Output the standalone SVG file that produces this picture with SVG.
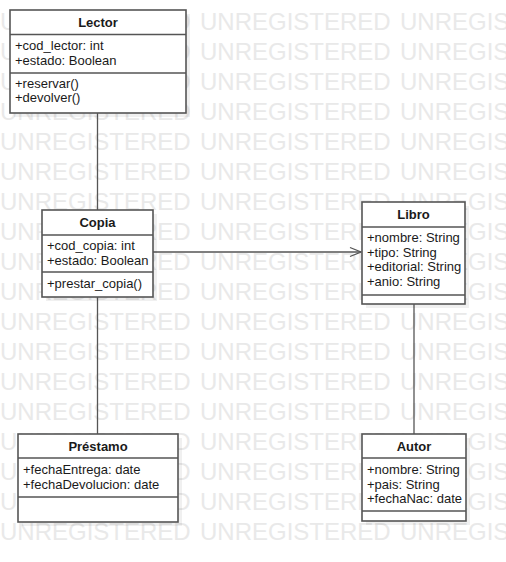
<svg xmlns="http://www.w3.org/2000/svg" width="506" height="562" viewBox="0 0 506 562">
<style>
.wm{font-family:"Liberation Sans",Arial,sans-serif;font-size:24px;fill:#e9e9e9}
.box{fill:#fff;stroke:#555;stroke-width:1.6}
.sh{fill:#000;fill-opacity:0.06}
.div{stroke:#555;stroke-width:1.6}
.t{font-family:"Liberation Sans",Arial,sans-serif;font-size:13px;fill:#1a1a1a}
.h{font-weight:bold;text-anchor:middle}
.c{stroke:#555;stroke-width:1.3;fill:none}
</style>
<defs>
<text id="wmrow" class="wm"><tspan x="0">UNREGISTERED</tspan><tspan x="200">UNREGISTERED</tspan><tspan x="400">UNREGISTERED</tspan></text>
<marker id="open" markerWidth="14" markerHeight="12" refX="12" refY="6" orient="auto" markerUnits="userSpaceOnUse">
<path d="M1,1.5 L12,6 L1,10.5" fill="none" stroke="#555" stroke-width="1.3"/>
</marker>
</defs>
<rect width="506" height="562" fill="#fff"/>
<g id="watermark">
<use href="#wmrow" y="30"/><use href="#wmrow" y="60"/><use href="#wmrow" y="90"/><use href="#wmrow" y="120"/><use href="#wmrow" y="150"/><use href="#wmrow" y="180"/><use href="#wmrow" y="210"/><use href="#wmrow" y="240"/><use href="#wmrow" y="270"/><use href="#wmrow" y="300"/><use href="#wmrow" y="330"/><use href="#wmrow" y="360"/><use href="#wmrow" y="390"/><use href="#wmrow" y="420"/><use href="#wmrow" y="450"/><use href="#wmrow" y="480"/><use href="#wmrow" y="510"/><use href="#wmrow" y="540"/>
</g>
<g id="connectors">
<line class="c" x1="97.5" y1="113" x2="97.5" y2="210"/>
<line class="c" x1="97.5" y1="297" x2="97.5" y2="434"/>
<line class="c" x1="153" y1="252" x2="361" y2="252" marker-end="url(#open)"/>
<line class="c" x1="414" y1="304" x2="414" y2="434"/>
</g>
<g id="lector">
<rect class="sh" x="14" y="14" width="176" height="103"/>
<rect class="box" x="10" y="10" width="176" height="103"/>
<line class="div" x1="10" y1="34.5" x2="186" y2="34.5"/>
<line class="div" x1="10" y1="73" x2="186" y2="73"/>
<text class="t h" x="98" y="27">Lector</text>
<text class="t" x="15" y="50">+cod_lector: int</text>
<text class="t" x="15" y="64.5">+estado: Boolean</text>
<text class="t" x="15" y="88">+reservar()</text>
<text class="t" x="15" y="102">+devolver()</text>
</g>
<g id="copia">
<rect class="sh" x="46" y="214" width="111" height="87"/>
<rect class="box" x="42" y="210" width="111" height="87"/>
<line class="div" x1="42" y1="235" x2="153" y2="235"/>
<line class="div" x1="42" y1="272" x2="153" y2="272"/>
<text class="t h" x="97.5" y="227">Copia</text>
<text class="t" x="47" y="250">+cod_copia: int</text>
<text class="t" x="47" y="264.5">+estado: Boolean</text>
<text class="t" x="47" y="288">+prestar_copia()</text>
</g>
<g id="libro">
<rect class="sh" x="366" y="206" width="103" height="102"/>
<rect class="box" x="362" y="202" width="103" height="102"/>
<line class="div" x1="362" y1="227" x2="465" y2="227"/>
<line class="div" x1="362" y1="295" x2="465" y2="295"/>
<text class="t h" x="413.5" y="219">Libro</text>
<text class="t" x="367" y="242">+nombre: String</text>
<text class="t" x="367" y="256.5">+tipo: String</text>
<text class="t" x="367" y="271">+editorial: String</text>
<text class="t" x="367" y="285.5">+anio: String</text>
</g>
<g id="prestamo">
<rect class="sh" x="22" y="438" width="160" height="88"/>
<rect class="box" x="18" y="434" width="160" height="88"/>
<line class="div" x1="18" y1="458" x2="178" y2="458"/>
<line class="div" x1="18" y1="497" x2="178" y2="497"/>
<text class="t h" x="98" y="451">Préstamo</text>
<text class="t" x="23" y="474">+fechaEntrega: date</text>
<text class="t" x="23" y="488.5">+fechaDevolucion: date</text>
</g>
<g id="autor">
<rect class="sh" x="366" y="438" width="104" height="87"/>
<rect class="box" x="362" y="434" width="104" height="87"/>
<line class="div" x1="362" y1="458" x2="466" y2="458"/>
<line class="div" x1="362" y1="511" x2="466" y2="511"/>
<text class="t h" x="414" y="451">Autor</text>
<text class="t" x="367" y="474">+nombre: String</text>
<text class="t" x="367" y="488.5">+pais: String</text>
<text class="t" x="367" y="503">+fechaNac: date</text>
</g>
</svg>
